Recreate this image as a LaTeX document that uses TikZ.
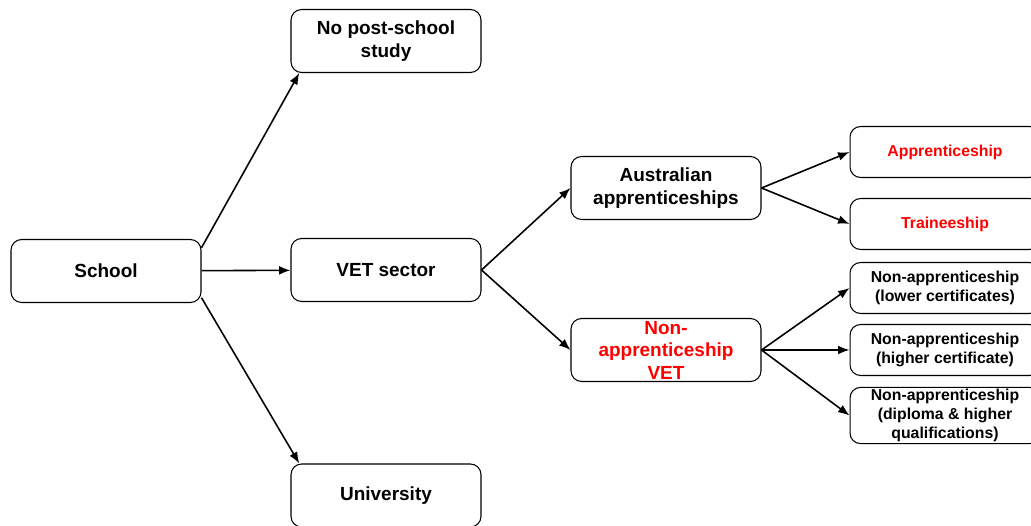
\documentclass[tikz,border=0pt]{standalone}
\usepackage{fontspec}
\setmainfont{Liberation Sans}
\usepackage{tikz}
\usetikzlibrary{arrows.meta}
\usepackage{xcolor}

\begin{document}
\begin{tikzpicture}[x=0.02cm, y=-0.02cm,
    box/.style={draw, rounded corners=6pt, line width=0.6pt, minimum width=3.8cm,
      minimum height=1.26cm, align=center, inner sep=1pt,
      font=\fontsize{10.8}{13}\selectfont\bfseries},
    sbox/.style={box, minimum height=1.02cm,
      font=\fontsize{9}{10.8}\selectfont\bfseries},
    arr/.style={-{Latex[length=6.5pt,width=5pt]}, line width=0.9pt}]
  \useasboundingbox (0,0) rectangle (1031,526);
  % first column
  \node[box] (school) at (106,271) {School};
  % second column
  \node[box] (nopost) at (386,41) {No post-school\\study};
  \node[box] (vet) at (386,270) {VET sector};
  \node[box] (uni) at (386,495.5) {University};
  % third column
  \node[box] (aus) at (666,188) {Australian\\apprenticeships};
  \node[box, text=red, font=\fontsize{10.8}{12.8}\selectfont\bfseries] (nonapp) at (666,350) {Non-\\apprenticeship\\VET};
  % fourth column
  \node[sbox, text=red] (appr) at (945,152) {Apprenticeship};
  \node[sbox, text=red] (train) at (945,224) {Traineeship};
  \node[sbox] (lower) at (945,288) {Non-apprenticeship\\(lower certificates)};
  \node[sbox] (higher) at (945,350) {Non-apprenticeship\\(higher certificate)};
  \node[sbox] (dipl) at (945,415.5) {Non-apprenticeship\\(diploma \& higher\\qualifications)};

  \draw[arr] ([yshift=-5pt]school.north east) -- ([xshift=5pt]nopost.south west);
  \draw[arr] (school) -- (vet);
  \draw[arr] ([yshift=3pt]school.south east) -- ([xshift=5pt]uni.north west);
  \draw[arr] (vet.east) -- (aus.west);
  \draw[arr] (vet.east) -- (nonapp.west);
  \draw[arr] (aus.east) -- (appr.west);
  \draw[arr] (aus.east) -- (train.west);
  \draw[arr] (nonapp.east) -- (lower.west);
  \draw[arr] (nonapp.east) -- (higher.west);
  \draw[arr] (nonapp.east) -- (dipl.west);
\end{tikzpicture}
\end{document}
